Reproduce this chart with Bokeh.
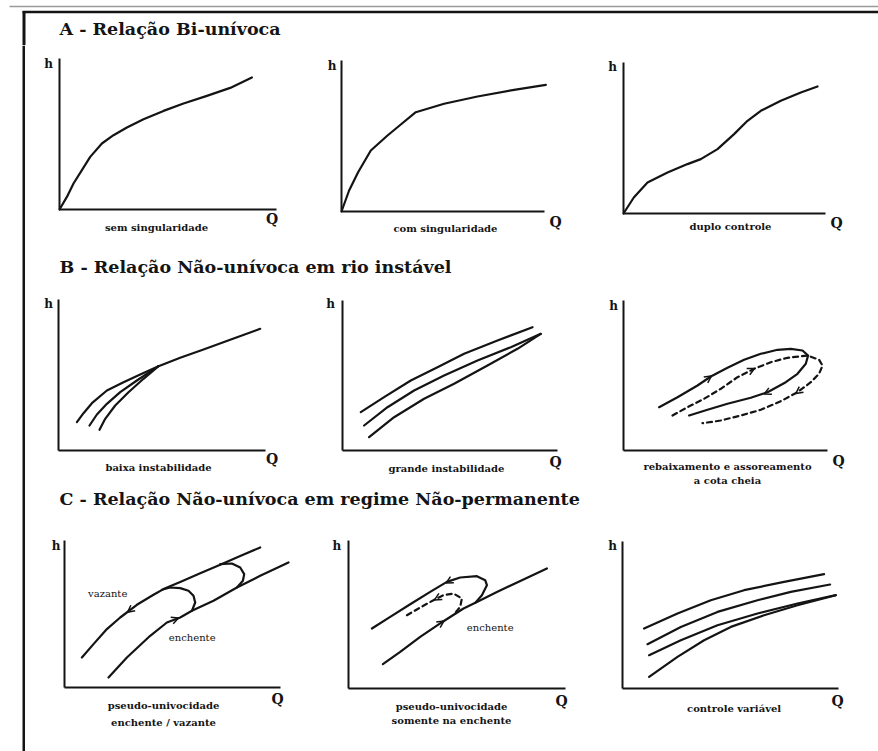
from bokeh.plotting import figure
from bokeh.layouts import row, column
from bokeh.models import Range1d, FixedTicker, Label, Arrow, OpenHead, LinearAxis
from bokeh.embed import file_html
from bokeh.resources import INLINE

INK = "#141414"
SERIF = "DejaVu Serif"

# ---------------- texts ----------------
title_A = "A - Relação Bi-unívoca"
title_B = "B - Relação Não-unívoca em rio instável"
title_C = "C - Relação Não-unívoca em regime Não-permanente"
axis_h_label = "h"
axis_q_label = "Q"

# ---------------- data (Q, h in panel units) ----------------
# A1 sem singularidade
a1_q = [0, 7.4, 14, 22.4, 30.7, 42.4, 54, 67.4, 84, 104, 124, 147.4, 170.7, 192.4]
a1_h = [0, 12.6, 26, 39.3, 52.6, 66, 74.3, 82, 90.3, 98.6, 106, 113.6, 121.6, 132]
# A2 com singularidade
a2_q = [0, 7.6, 16.6, 29.3, 46, 59.3, 74.3, 102.6, 136, 172.6, 204.3]
a2_h = [0, 21, 39.3, 61, 76, 87, 99.3, 107.7, 115, 121.7, 126.7]
# A3 duplo controle
a3_q = [0, 10.3, 24, 44, 64, 77.3, 94, 110.6, 124, 137.3, 157.3, 177.3, 194]
a3_h = [0, 16, 31, 41, 49.4, 54.4, 64.4, 79.4, 92.7, 102.7, 112.7, 121, 127]

# B1 baixa instabilidade
b1_top_q = [18.4, 25, 33.4, 48.4, 65, 81.7, 100]
b1_top_h = [28.3, 37.3, 47.3, 60, 68.3, 76, 84.3]
b1_mid_q = [31, 38.4, 48.4, 61.7, 78.4, 100]
b1_mid_h = [25, 36, 46.7, 58.3, 70, 84.3]
b1_bot_q = [41, 46.7, 56.7, 70, 85, 100]
b1_bot_h = [20.7, 31.7, 45, 58.3, 71.7, 84.3]
b1_com_q = [100, 121.7, 145, 171.7, 201.7]
b1_com_h = [84.3, 92.7, 101, 110.7, 121.7]
# B2 grande instabilidade
b2_top_q = [18.3, 41.6, 68.3, 95, 121.6, 155, 190]
b2_top_h = [38.3, 53.3, 70, 83.3, 96.7, 110, 123.3]
b2_mid_q = [21.6, 45, 71.6, 101.6, 135, 168.3, 198.3]
b2_mid_h = [25, 43.3, 60, 75, 90, 103.3, 116.7]
b2_bot_q = [26.6, 51.6, 81.6, 111.6, 145, 175, 198.3]
b2_bot_h = [13.3, 33.3, 51.7, 66.7, 85, 101.7, 116.7]
# B3 rebaixamento e assoreamento
b3_sol_q = [35.6, 54, 74, 87.3, 104, 120.6, 137.3, 154, 167.3, 179, 184.6, 182.3, 174, 162.3, 144, 127.3, 104, 84, 65.6]
b3_sol_h = [43.3, 53.3, 65, 74, 82.7, 90.7, 96.7, 100.7, 101.7, 100, 95, 86.7, 76.7, 68.3, 58.3, 52.7, 46.7, 40.7, 35]
b3_das_q = [49, 64, 80.6, 97.3, 114, 130.6, 147.3, 164, 184, 195.6, 199, 195.6, 187.3, 174, 157.3, 137.3, 117.3, 97.3, 79]
b3_das_h = [35, 43.3, 51.7, 61.7, 73.3, 81.7, 88.3, 92.7, 95, 90.7, 85, 76.7, 68.3, 58.3, 49.3, 40.7, 35, 30, 27.3]
# arrows: q_start, h_start, q_end, h_end
b3_arrows_solid = [(80, 69, 88, 74.5), (148, 60, 140.6, 56.4)]
b3_arrows_dash = [(123, 78, 131, 82), (179, 62, 172.3, 56.9)]

# C1 pseudo-univocidade enchente / vazante
c1_up_q = [17.4, 29, 42.4, 55.7, 72.4, 89, 99, 115.7, 135.7, 155.7, 175.7, 195.7]
c1_up_h = [30, 43.4, 58.4, 70, 82.7, 92.7, 98.4, 105.6, 114.2, 122.8, 131.4, 140]
c1_lo_q = [44, 62.4, 85.7, 102.4, 115.7, 127.4, 149, 172.4, 195.7, 224]
c1_lo_h = [10, 30, 51.7, 65, 70, 76.7, 86.7, 100, 111.7, 125]
c1_loop1_q = [127.4, 130.7, 129, 124, 115.7, 105.7, 97.4]
c1_loop1_h = [76.7, 85, 91.7, 96.7, 99.4, 100, 97.7]
c1_loop2_q = [172.4, 178.4, 179.7, 175.7, 167.4, 155.7]
c1_loop2_h = [100, 106.7, 113.4, 120, 124, 123.4]
c1_arrows = [(70, 80.7, 63, 75.2), (106, 66.5, 114, 69.6)]
# C2 pseudo-univocidade somente na enchente
c2_lo_q = [34.4, 51.7, 71.7, 95, 115, 128.4, 148.4, 175, 198.4]
c2_lo_h = [24.3, 36.6, 51.6, 67.3, 80, 86.6, 96.6, 109, 120]
c2_up_q = [23.4, 41.7, 61.7, 81.7, 98.4, 111.7, 128.4, 136.7, 138.4, 133.4, 126.7]
c2_up_h = [60, 71.6, 84.3, 96.6, 106.6, 111, 112.3, 108.3, 103.3, 93.3, 85.6]
c2_das_q = [58.4, 71.7, 85, 95, 105, 113.4, 111.7, 106.7]
c2_das_h = [73.3, 81, 88.3, 93.3, 95, 90, 81.6, 75.6]
c2_arrows_solid = [(105, 109.5, 97.5, 105.4), (88, 62.5, 95.5, 67.6)]
c2_arrows_dash = [(93, 92.5, 86, 88.6)]
# C3 controle variável
c3_1_q = [21.6, 55, 88.3, 121.6, 161.6, 201.6]
c3_1_h = [60, 75, 88.3, 98.3, 106.6, 114.3]
c3_2_q = [25, 58.3, 95, 135, 168.3, 207.6]
c3_2_h = [44.3, 61.6, 76.6, 88.3, 96.6, 104]
c3_3_q = [26.6, 58.3, 95, 135, 175, 213.3]
c3_3_h = [33.3, 48.3, 63.3, 75, 85, 93.3]
c3_4_q = [26.6, 55, 81.6, 108.3, 141.6, 175, 213.3]
c3_4_h = [11.6, 31.6, 48.3, 61.6, 73.3, 83.3, 93.3]


def base_fig(w, h, xr, yr):
    p = figure(width=w, height=h, x_range=xr, y_range=yr,
               output_backend="svg", toolbar_location=None,
               x_axis_type=None, y_axis_type=None,
               background_fill_color="white", border_fill_color="white",
               outline_line_color=None, min_border=0)
    p.grid.visible = False
    return p


def text(p, txt, x, y, size="10px", bold=True, align="center"):
    p.add_layout(Label(x=x, y=y, text=txt, text_align=align, text_baseline="middle",
                       text_font=SERIF, text_font_style="bold" if bold else "normal",
                       text_font_size=size, text_color=INK))


def panel(block_w, row_h, left, bottom, axis_w, axis_h, hpos, qpos, captions):
    p = base_fig(block_w, row_h, Range1d(-left, block_w - left), Range1d(-bottom, row_h - bottom))
    for side, bnd in (("below", axis_w), ("left", axis_h)):
        ax = LinearAxis(fixed_location=0, bounds=(0, bnd), ticker=FixedTicker(ticks=[]),
                        major_tick_line_color=None, minor_tick_line_color=None,
                        major_tick_out=0, major_tick_in=0, minor_tick_out=0, minor_tick_in=0,
                        major_label_text_font_size="0px",
                        axis_line_width=2, axis_line_color=INK)
        p.add_layout(ax, side)
    text(p, axis_h_label, hpos[0], hpos[1], size="12px")
    text(p, axis_q_label, qpos[0], qpos[1], size="14px")
    for txt, cx, cy in captions:
        text(p, txt, cx, cy, size="10px")
    return p


def curve(p, q, h, dash="solid"):
    p.line(q, h, line_color=INK, line_width=2.2, line_dash=dash, line_join="round", line_cap="round")


def arrows(p, lst):
    for qs, hs, qe, he in lst:
        p.add_layout(Arrow(x_start=qs, y_start=hs, x_end=qe, y_end=he, line_alpha=0,
                           end=OpenHead(size=7, line_width=1.5, line_color=INK)))


def title_fig(w, h, txt, tx, ty):
    p = base_fig(w, h, Range1d(0, w), Range1d(h, 0))
    text(p, txt, tx, ty, size="17.5px", align="left")
    return p


# ---------------- header with frame ----------------
header = base_fig(878, 45, Range1d(0, 878), Range1d(45, 0))
header.segment(x0=[9], y0=[6], x1=[878], y1=[6], line_color="#9a9a9a", line_width=1.5)
header.segment(x0=[22], y0=[11.5], x1=[878], y1=[11.5], line_color=INK, line_width=2.5)
header.segment(x0=[23.5], y0=[11], x1=[23.5], y1=[45], line_color=INK, line_width=3)
text(header, title_A, 59, 28, size="17.5px", align="left")

strip = base_fig(25, 706, Range1d(0, 25), Range1d(751, 45))
strip.segment(x0=[23.5], y0=[45], x1=[23.5], y1=[751], line_color=INK, line_width=3)

# ---------------- row A ----------------
A1 = panel(280, 198, 34, 34, 217, 151, (-11, 145.5), (212.5, -9), [("sem singularidade", 97, -18)])
curve(A1, a1_q, a1_h)
A2 = panel(287, 198, 36, 32, 203, 151, (-9.5, 146), (214, -10), [("com singularidade", 104, -17)])
curve(A2, a2_q, a2_h)
A3 = panel(286, 198, 31, 30, 202, 151, (-11, 147), (213, -9), [("duplo controle", 107, -13)])
curve(A3, a3_q, a3_h)

tB = title_fig(853, 47, title_B, 34, 23)

# ---------------- row B ----------------
B1 = panel(280, 198, 33, 38, 207, 151, (-10, 146.5), (213.7, -8.3), [("baixa instabilidade", 100, -17)])
for q, h in [(b1_top_q, b1_top_h), (b1_mid_q, b1_mid_h), (b1_bot_q, b1_bot_h), (b1_com_q, b1_com_h)]:
    curve(B1, q, h)
B2 = panel(287, 198, 37, 38, 215, 150, (-12, 146.5), (213, -11), [("grande instabilidade", 104, -18)])
for q, h in [(b2_top_q, b2_top_h), (b2_mid_q, b2_mid_h), (b2_bot_q, b2_bot_h)]:
    curve(B2, q, h)
B3 = panel(286, 198, 31, 38, 204, 150, (-10, 145), (215, -10),
           [("rebaixamento e assoreamento", 104, -16), ("a cota cheia", 104, -30)])
curve(B3, b3_sol_q, b3_sol_h)
curve(B3, b3_das_q, b3_das_h, dash="5 4")
arrows(B3, b3_arrows_solid + b3_arrows_dash)

tC = title_fig(853, 37, title_C, 34, 10)

# ---------------- row C ----------------
C1 = panel(280, 226, 39, 64, 216, 147, (-8.5, 142), (213, -11.6),
           [("pseudo-univocidade", 99, -18), ("enchente / vazante", 99, -34.6)])
for q, h in [(c1_up_q, c1_up_h), (c1_lo_q, c1_lo_h), (c1_loop1_q, c1_loop1_h), (c1_loop2_q, c1_loop2_h)]:
    curve(C1, q, h)
arrows(C1, c1_arrows)
text(C1, "vazante", 43.2, 93.7, bold=False)
text(C1, "enchente", 127.7, 49.7, bold=False)

C2 = panel(287, 226, 43, 63, 217, 148, (-11.6, 143), (213, -12.5),
           [("pseudo-univocidade", 103, -18.4), ("somente na enchente", 103, -31.7)])
curve(C2, c2_lo_q, c2_lo_h)
curve(C2, c2_up_q, c2_up_h)
curve(C2, c2_das_q, c2_das_h, dash="5 4")
arrows(C2, c2_arrows_solid + c2_arrows_dash)
text(C2, "enchente", 141.7, 61.3, bold=False)

C3 = panel(286, 226, 30, 63, 216, 147, (-10, 143), (215, -12), [("controle variável", 111.6, -19.7)])
for q, h in [(c3_1_q, c3_1_h), (c3_2_q, c3_2_h), (c3_3_q, c3_3_h), (c3_4_q, c3_4_h)]:
    curve(C3, q, h)

body = column(row(A1, A2, A3), tB, row(B1, B2, B3), tC, row(C1, C2, C3))
layout = column(header, row(strip, body))

open("out.html", "w").write(file_html(layout, INLINE))
